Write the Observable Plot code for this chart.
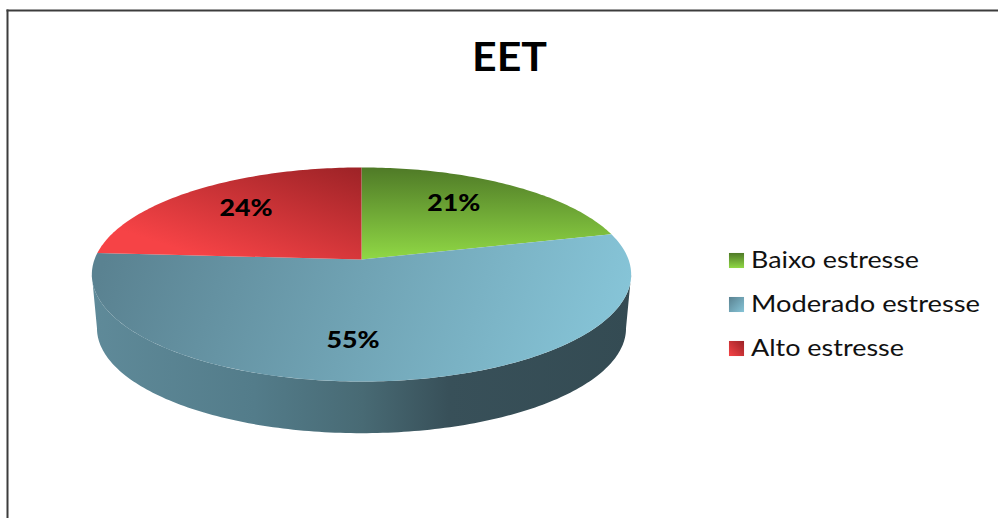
<!DOCTYPE html>
<html>
<head>
<meta charset="utf-8">
<script src="https://cdn.jsdelivr.net/npm/d3@7"></script>
<script src="https://cdn.jsdelivr.net/npm/@observablehq/plot@0.6"></script>
<style>
  html, body { margin: 0; background: #fff; }
  svg { display: block; }
</style>
</head>
<body>
<div id="chart"></div>
<script>
// EET: stress level shares
const chartTitle = "EET";
const categories = ["Baixo estresse", "Moderado estresse", "Alto estresse"];
const shares = [21, 55, 24];

// Paint servers, one per slice, plus the rim and the legend swatches
const sliceFills = ["url(#fillGreen)", "url(#fillBlue)", "url(#fillRed)"];
const swatchFills = ["url(#swatchGreen)", "url(#swatchBlue)", "url(#swatchRed)"];
// Label nudges from the slice anchor, in pixels
const labelNudge = [[-7, -5], [-26.5, 6.5], [-4, -4]];
// Widened type: rendered width of each legend entry, in pixels
const legendWidths = [168, 229, 153];

const width = 998, height = 518;
const frameLeft = 7, frameTop = 10;
const pieX = 361, pieY = 259, radius = 267;

// Tilted-disc projection: the far edge shrinks, the near edge grows
const tilt = 0.393, persp = 0.14;
function project(angle, f = 1, scale = 1, drop = 0) {
  const u = Math.sin(angle) * f, v = Math.cos(angle) * f;
  const s = scale / (1 + persp * v);
  return {x: u * s, y: v * tilt * s - drop};
}

const arcs = d3.pie().sort(null).value(d => d)(shares);
const arcStep = Math.PI / 180;

function wedge(a) {
  const pts = [project(0, 0)];
  for (let t = a.startAngle; t < a.endAngle; t += arcStep) pts.push(project(t));
  pts.push(project(a.endAngle));
  return pts;
}

// Side wall: near half of the top rim, then back along the lower rim
const wallFrom = 98 * Math.PI / 180, wallTo = 262 * Math.PI / 180;
const wallAngles = d3.range(wallFrom, wallTo, arcStep).concat(wallTo);
const wall = [
  ...wallAngles.map(t => project(t)),
  ...wallAngles.slice().reverse().map(t => project(t, 1, 0.981, 54 / radius))
];

const labels = arcs.map((a, i) => ({
  ...project((a.startAngle + a.endAngle) / 2, 0.65),
  text: shares[i] + "%"
}));

function gradient(defs, id, stops, attrs) {
  const g = defs.append("linearGradient").attr("id", id);
  for (const [k, v] of Object.entries(attrs)) g.attr(k, v);
  for (const [o, c] of stops) g.append("stop").attr("offset", o).attr("stop-color", c);
}

function paintServers() {
  const root = d3.create("svg:g");
  const defs = root.append("defs");
  const user = {gradientUnits: "userSpaceOnUse"};
  gradient(defs, "fillGreen", [[0, "#4f7a27"], [1, "#90d845"]], {...user, x1: 0, y1: 167, x2: 0, y2: 259});
  gradient(defs, "fillRed", [[0, "#9c2226"], [1, "#f64346"]], {...user, x1: 361, y1: 165, x2: 318, y2: 295});
  gradient(defs, "fillBlue", [[0, "#5a8291"], [1, "#86c4d7"]], {...user, x1: 110, y1: 240, x2: 590, y2: 400});
  gradient(defs, "fillWall",
    [[0, "#5f8a99"], [0.3, "#537c8a"], [0.5, "#486a74"], [0.66, "#385059"], [1, "#344b53"]],
    {...user, x1: 92, y1: 0, x2: 632, y2: 0});
  gradient(defs, "swatchGreen", [[0, "#4f7a27"], [1, "#90d845"]], {x1: 0, y1: 0, x2: 0, y2: 1});
  gradient(defs, "swatchBlue", [[0, "#5a8291"], [1, "#86c4d7"]], {x1: 0, y1: 0, x2: 1, y2: 1});
  gradient(defs, "swatchRed", [[0, "#9c2226"], [1, "#f64346"]], {x1: 1, y1: 0, x2: 0, y2: 1});
  return root.node();
}

// Render hook that widens a text mark's glyphs to a set length
const stretchTo = length => (index, scales, values, dims, context, next) => {
  const g = next(index, scales, values, dims, context);
  d3.select(g).selectAll("text").attr("textLength", length).attr("lengthAdjust", "spacingAndGlyphs");
  return g;
};

const typeface = "Lato";
const chart = Plot.plot({
  width, height,
  marginLeft: frameLeft, marginTop: frameTop, marginRight: 0, marginBottom: 0,
  x: {axis: null, domain: [(frameLeft - pieX) / radius, (width - pieX) / radius]},
  y: {axis: null, domain: [(pieY - height) / radius, (pieY - frameTop) / radius]},
  style: {background: "#fff"},
  marks: [
    paintServers,
    Plot.frame({anchor: "left", stroke: "#3c3c3c", strokeWidth: 2}),
    Plot.frame({anchor: "top", stroke: "#3c3c3c", strokeWidth: 2}),
    Plot.line(wall, {x: "x", y: "y", fill: "url(#fillWall)", stroke: null}),
    ...arcs.map((a, i) => Plot.line(wedge(a), {x: "x", y: "y", fill: sliceFills[i], stroke: null})),
    ...labels.map((d, i) => Plot.text([d], {
      x: "x", y: "y", text: "text", dx: labelNudge[i][0], dy: labelNudge[i][1],
      fontFamily: typeface, fontWeight: 900, fontSize: 22, fill: "#000",
      render: stretchTo(53)
    })),
    Plot.text([chartTitle], {
      frameAnchor: "top-left", dx: 509 - frameLeft, dy: 58 - frameTop, textAnchor: "middle", lineAnchor: "middle",
      fontFamily: typeface, fontWeight: "bold", fontSize: 40, fill: "#000",
      render: stretchTo(75)
    }),
    ...categories.map((c, i) => Plot.dot([c], {
      frameAnchor: "top-left", dx: 736 - frameLeft, dy: 260 + 44 * i - frameTop,
      symbol: "square", r: 8.5, fill: swatchFills[i], stroke: null
    })),
    ...categories.map((c, i) => Plot.text([c], {
      frameAnchor: "top-left", dx: 750.5 - frameLeft, dy: 260 + 44 * i - frameTop,
      textAnchor: "start", lineAnchor: "middle",
      fontFamily: typeface, fontSize: 24, fill: "#111",
      render: stretchTo(legendWidths[i])
    }))
  ]
});
document.getElementById("chart").append(chart);
</script>
</body>
</html>
